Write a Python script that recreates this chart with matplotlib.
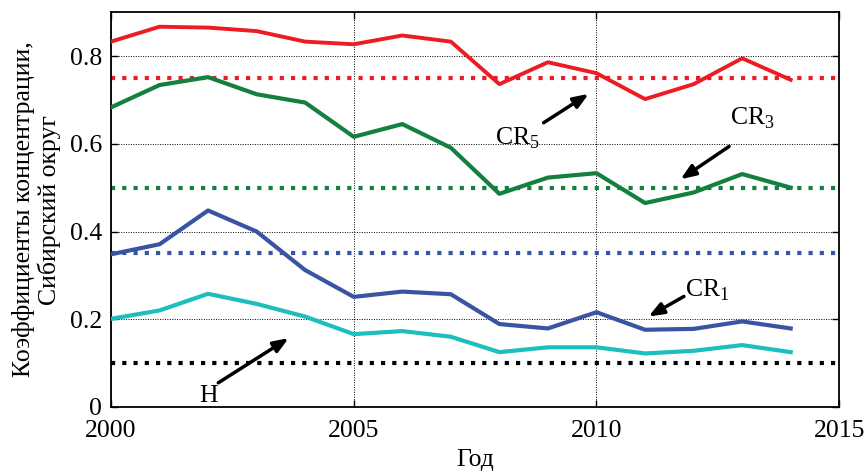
import matplotlib
matplotlib.use("Agg")
import matplotlib.pyplot as plt

plt.rcParams["font.family"] = ["Liberation Serif", "DejaVu Serif"]
plt.rcParams["mathtext.fontset"] = "custom"
plt.rcParams["mathtext.rm"] = "Liberation Serif"

years = list(range(2000, 2015))

cr5 = [0.833, 0.867, 0.865, 0.857, 0.833, 0.827, 0.847, 0.833,
       0.736, 0.786, 0.761, 0.702, 0.736, 0.795, 0.746]
cr3 = [0.683, 0.734, 0.752, 0.713, 0.694, 0.616, 0.645, 0.591,
       0.486, 0.523, 0.533, 0.465, 0.489, 0.531, 0.500]
cr1 = [0.348, 0.371, 0.448, 0.400, 0.312, 0.251, 0.263, 0.257,
       0.189, 0.179, 0.216, 0.176, 0.178, 0.195, 0.179]
hhi = [0.201, 0.220, 0.258, 0.235, 0.206, 0.166, 0.173, 0.160,
       0.125, 0.136, 0.136, 0.122, 0.128, 0.141, 0.125]

thresholds = [0.75, 0.5, 0.35, 0.1]

RED   = "#ED1C24"
GREEN = "#13803F"
BLUE  = "#3A54A4"
CYAN  = "#1CBEBE"
BLACK = "#000000"

fig = plt.figure(figsize=(8.67, 4.71), dpi=100)
ax = fig.add_axes([0.128, 0.136, 0.840, 0.838])

# threshold levels (dotted)
dot = (0, (1, 1.7))
for val, col in zip(thresholds, [RED, GREEN, BLUE, BLACK]):
    ax.plot([2000, 2015], [val, val], color=col, linewidth=3.0,
            linestyle=dot, dash_capstyle="butt", zorder=2)

ax.plot(years, cr5, color=RED, linewidth=2.8, zorder=3)
ax.plot(years, cr3, color=GREEN, linewidth=3.0, zorder=3)
ax.plot(years, cr1, color=BLUE, linewidth=3.0, zorder=3)
ax.plot(years, hhi, color=CYAN, linewidth=3.0, zorder=3)

ax.set_xlim(2000, 2015)
ax.set_ylim(0, 0.9)
ax.set_xticks([2000, 2005, 2010, 2015])
ax.set_yticks([0, 0.2, 0.4, 0.6, 0.8])
ax.set_yticklabels(["0", "0.2", "0.4", "0.6", "0.8"])
ax.grid(True, color="black", linestyle=(0, (1, 1.5)), linewidth=0.7)
ax.tick_params(direction="in", top=True, right=True, labelsize=18.5,
               length=5, width=1)
ax.tick_params(axis="x", pad=9.5)
ax.tick_params(axis="y", pad=6.5)
for s in ax.spines.values():
    s.set_linewidth(1.3)

ax.set_xlabel("Год", fontsize=18.5, labelpad=5)
ax.set_ylabel("Коэффициенты концентрации,\nСибирский округ", fontsize=18.5,
              labelpad=6, linespacing=1.15)

arrow = dict(arrowstyle="-|>,head_length=0.9,head_width=0.35",
             color="black", lw=2.5, shrinkA=0, shrinkB=0)
ann = [
    ("CR$_5$", (2007.9, 0.613), (2008.91, 0.648), (2009.84, 0.714)),
    ("CR$_3$", (2012.75, 0.659), (2012.73, 0.594), (2011.73, 0.519)),
    ("CR$_1$", (2011.82, 0.267), (2011.80, 0.252), (2011.07, 0.206)),
    ("H", (2002.0, 0.024), (2002.21, 0.055), (2003.66, 0.157)),
]
for text, tpos, tail, head in ann:
    ax.annotate("", xy=head, xytext=tail, arrowprops=arrow, zorder=5)
    ha = "center" if text == "H" else "left"
    ax.text(tpos[0], tpos[1], text, fontsize=18.5, ha=ha, va="center", zorder=5)

fig.savefig("out.png", dpi=100)
